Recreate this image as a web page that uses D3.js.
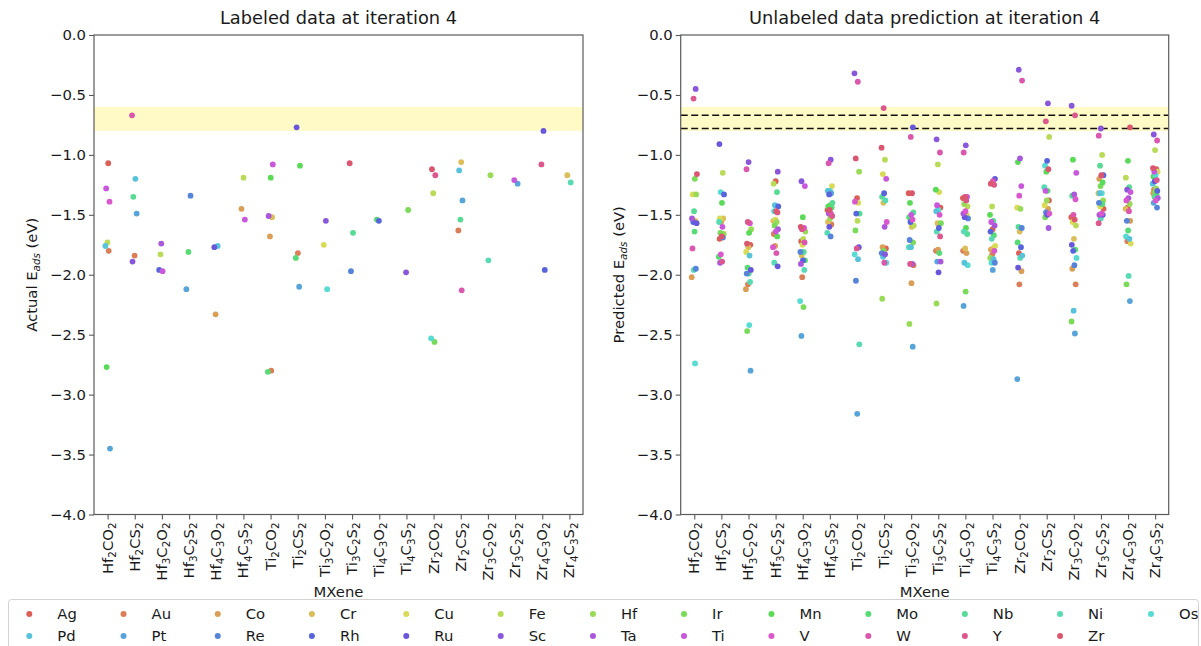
<!DOCTYPE html>
<html>
<head>
<meta charset="utf-8">
<script src="https://cdn.jsdelivr.net/npm/d3@7"></script>
<style>
  html, body { margin: 0; padding: 0; background: #fff; }
  svg { display: block; font-family: "DejaVu Sans", sans-serif; }
</style>
</head>
<body>
<script>
// ---------------- DATA ----------------
const categories = ["Hf2CO2","Hf2CS2","Hf3C2O2","Hf3C2S2","Hf4C3O2","Hf4C3S2",
  "Ti2CO2","Ti2CS2","Ti3C2O2","Ti3C2S2","Ti4C3O2","Ti4C3S2",
  "Zr2CO2","Zr2CS2","Zr3C2O2","Zr3C2S2","Zr4C3O2","Zr4C3S2"];

const elements = ["Ag","Au","Co","Cr","Cu","Fe","Hf","Ir","Mn","Mo","Nb","Ni","Os",
  "Pd","Pt","Re","Rh","Ru","Sc","Ta","Ti","V","W","Y","Zr"];

const yTicks = [0.0,-0.5,-1.0,-1.5,-2.0,-2.5,-3.0,-3.5,-4.0];
const targetBand = [-0.8, -0.6];
const dashedLevels = [-0.67, -0.78];

// labeled (actual) adsorption energies, one list per MXene: [element, E_ads]
const labeledData = [
  [["Ag",-1.07],["Ti",-1.28],["V",-1.39],["Fe",-1.73],["Pd",-1.76],["Au",-1.80],["Mn",-2.77],["Pt",-3.45]],
  [["W",-0.67],["Pd",-1.20],["Nb",-1.35],["Pt",-1.49],["Au",-1.84],["Sc",-1.89]],
  [["Ta",-1.74],["Rh",-1.96],["Ti",-1.97],["Fe",-1.83]],
  [["Re",-1.34],["Mo",-1.81],["Pt",-2.12]],
  [["Ru",-1.77],["Pd",-1.76],["Co",-2.33]],
  [["Fe",-1.19],["Co",-1.45],["Ti",-1.54]],
  [["Ti",-1.08],["Mn",-1.19],["Ta",-1.51],["Cr",-1.52],["Co",-1.68],["Mo",-2.81],["Au",-2.80]],
  [["Ru",-0.77],["Mn",-1.09],["Au",-1.82],["Mo",-1.86],["Pt",-2.10]],
  [["Sc",-1.55],["Cu",-1.75],["Os",-2.12]],
  [["Zr",-1.07],["Nb",-1.65],["Re",-1.97]],
  [["Rh",-1.55],["Mo",-1.54]],
  [["Ir",-1.46],["Sc",-1.98]],
  [["Zr",-1.12],["Y",-1.17],["Fe",-1.32],["Os",-2.53],["Ir",-2.56]],
  [["Cr",-1.06],["Pd",-1.13],["Pt",-1.38],["Nb",-1.54],["Au",-1.63],["W",-2.13]],
  [["Hf",-1.17],["Ni",-1.88]],
  [["Ti",-1.21],["Pt",-1.24]],
  [["Ru",-0.80],["Y",-1.08],["Rh",-1.96]],
  [["Cr",-1.17],["Ni",-1.23]]
];

// predicted energies for the unlabeled element/MXene pairs
const predictedData = [
  [["Sc",-0.45],["Y",-0.53],["Zr",-1.16],["Ir",-1.20],["Cu",-1.33],["Hf",-1.33],["Nb",-1.47],["Ta",-1.53],["Cr",-1.55],["Rh",-1.56],["Ru",-1.57],["Mo",-1.64],["W",-1.78],["Re",-1.95],["Ni",-1.96],["Co",-2.02],["Os",-2.74]],
  [["Ru",-0.91],["Fe",-1.15],["Os",-1.31],["Rh",-1.33],["Mn",-1.40],["Cu",-1.53],["Cr",-1.53],["Co",-1.56],["Ni",-1.56],["Ti",-1.60],["Ir",-1.65],["Hf",-1.66],["Zr",-1.68],["Ag",-1.70],["Re",-1.69],["V",-1.83],["Mo",-1.85],["Y",-1.89],["Ta",-1.90]],
  [["Sc",-1.06],["W",-1.12],["V",-1.57],["Y",-1.56],["Hf",-1.62],["Mn",-1.65],["Zr",-1.74],["Ag",-1.75],["Cr",-1.77],["Cu",-1.81],["Pd",-1.84],["Mo",-1.94],["Ru",-1.96],["Nb",-1.99],["Re",-1.99],["Ni",-2.06],["Au",-2.08],["Co",-2.12],["Os",-2.42],["Ir",-2.47],["Pt",-2.80]],
  [["Sc",-1.14],["Ag",-1.22],["Fe",-1.24],["Nb",-1.31],["Pd",-1.42],["Rh",-1.43],["Zr",-1.47],["Os",-1.47],["Y",-1.48],["Cu",-1.54],["Cr",-1.55],["Hf",-1.56],["Ir",-1.59],["Ta",-1.62],["Ti",-1.64],["Au",-1.66],["Mn",-1.68],["Co",-1.76],["V",-1.77],["W",-1.82],["Ni",-1.90],["Ru",-1.93]],
  [["Sc",-1.22],["Ti",-1.26],["Mn",-1.52],["Zr",-1.60],["V",-1.61],["Y",-1.62],["Hf",-1.64],["Fe",-1.70],["Ag",-1.72],["W",-1.73],["Cu",-1.75],["Re",-1.81],["Nb",-1.81],["Cr",-1.84],["Mo",-1.88],["Rh",-1.88],["Ta",-1.91],["Ni",-1.96],["Au",-2.02],["Os",-2.22],["Ir",-2.27],["Pt",-2.51]],
  [["Sc",-1.04],["W",-1.07],["Cu",-1.26],["Os",-1.30],["Pd",-1.30],["Pt",-1.32],["Rh",-1.33],["Nb",-1.40],["Ir",-1.42],["Mn",-1.43],["Mo",-1.44],["Zr",-1.46],["Ag",-1.46],["V",-1.49],["Ta",-1.49],["Y",-1.51],["Hf",-1.53],["Cr",-1.56],["Au",-1.58],["Ru",-1.60],["Ni",-1.65],["Re",-1.68]],
  [["Sc",-0.32],["W",-0.39],["Zr",-1.03],["Hf",-1.14],["Ag",-1.36],["V",-1.39],["Cu",-1.40],["Rh",-1.49],["Nb",-1.49],["Fe",-1.55],["Ir",-1.63],["Ru",-1.77],["Y",-1.78],["Os",-1.83],["Pd",-1.87],["Re",-2.05],["Ni",-2.58],["Pt",-3.16]],
  [["Y",-0.61],["Zr",-0.94],["Fe",-1.04],["Cu",-1.16],["Ti",-1.20],["Rh",-1.32],["Nb",-1.35],["Ni",-1.38],["Cr",-1.40],["V",-1.56],["Ta",-1.60],["Co",-1.77],["Ag",-1.78],["Ir",-1.80],["Re",-1.82],["Sc",-1.83],["Pd",-1.85],["Os",-1.90],["W",-1.90],["Hf",-2.20]],
  [["Ru",-0.77],["W",-0.85],["Ag",-1.32],["Zr",-1.32],["Mn",-1.40],["Nb",-1.48],["Ti",-1.50],["Mo",-1.52],["V",-1.54],["Rh",-1.56],["Fe",-1.59],["Cr",-1.60],["Re",-1.71],["Ir",-1.73],["Pd",-1.77],["Ni",-1.77],["Ta",-1.91],["Y",-1.91],["Au",-1.92],["Co",-2.07],["Hf",-2.41],["Pt",-2.60]],
  [["Sc",-0.87],["W",-0.98],["Fe",-1.08],["Mn",-1.29],["Cu",-1.31],["Ti",-1.42],["Ag",-1.44],["Os",-1.46],["Pd",-1.47],["V",-1.50],["Cr",-1.57],["Ir",-1.57],["Rh",-1.61],["Ni",-1.64],["Y",-1.68],["Co",-1.79],["Au",-1.80],["Mo",-1.82],["Pt",-1.89],["Ta",-1.89],["Ru",-1.98],["Hf",-2.24]],
  [["Sc",-0.92],["W",-0.98],["Ti",-1.35],["Zr",-1.35],["Ag",-1.36],["Y",-1.38],["Hf",-1.41],["Fe",-1.43],["V",-1.47],["Ta",-1.49],["Cu",-1.50],["Ru",-1.52],["Re",-1.53],["Mn",-1.61],["Ni",-1.64],["Nb",-1.66],["Cr",-1.78],["Au",-1.80],["Co",-1.82],["Pd",-1.90],["Os",-1.92],["Ir",-2.14],["Pt",-2.26]],
  [["Ru",-1.20],["W",-1.22],["Zr",-1.24],["Y",-1.25],["Fe",-1.43],["Mn",-1.50],["Nb",-1.55],["Ti",-1.56],["Ta",-1.59],["Ag",-1.62],["Rh",-1.64],["Mo",-1.67],["Ni",-1.70],["Cu",-1.76],["Cr",-1.78],["Co",-1.79],["V",-1.80],["Au",-1.83],["Hf",-1.86],["Pd",-1.87],["Os",-1.90],["Re",-1.90],["Pt",-1.96]],
  [["Sc",-0.29],["W",-0.38],["Ta",-1.03],["Mn",-1.06],["Ti",-1.26],["V",-1.34],["Cu",-1.44],["Hf",-1.45],["Nb",-1.60],["Re",-1.61],["Cr",-1.64],["Mo",-1.73],["Rh",-1.77],["Ag",-1.82],["Pd",-1.84],["Ni",-1.86],["Ru",-1.94],["Co",-1.97],["Au",-2.08],["Pt",-2.87]],
  [["Sc",-0.57],["Y",-0.72],["Fe",-0.85],["Rh",-1.05],["Os",-1.09],["Zr",-1.12],["Mn",-1.14],["Ni",-1.27],["Mo",-1.30],["Ti",-1.30],["Ag",-1.38],["Hf",-1.38],["Cu",-1.42],["Co",-1.45],["Re",-1.48],["V",-1.49],["Ru",-1.50],["Ir",-1.52],["Ta",-1.61]],
  [["Sc",-0.59],["Y",-0.67],["Mn",-1.04],["Ti",-1.15],["Ta",-1.33],["Nb",-1.34],["V",-1.37],["W",-1.50],["Ag",-1.52],["Zr",-1.54],["Cu",-1.56],["Fe",-1.59],["Cr",-1.70],["Ru",-1.75],["Mo",-1.79],["Rh",-1.80],["Os",-1.86],["Re",-1.92],["Co",-1.95],["Au",-2.08],["Pd",-2.30],["Ir",-2.39],["Pt",-2.49]],
  [["Sc",-0.78],["W",-0.84],["Fe",-1.00],["Nb",-1.09],["Rh",-1.17],["Zr",-1.17],["Co",-1.20],["Mn",-1.23],["Ir",-1.26],["Cr",-1.32],["Os",-1.32],["Pd",-1.32],["Hf",-1.38],["Au",-1.40],["Re",-1.40],["Mo",-1.41],["Cu",-1.43],["Ag",-1.45],["V",-1.49],["Ta",-1.50],["Ru",-1.50],["Ni",-1.53],["Y",-1.57]],
  [["Zr",-0.77],["Mn",-1.05],["Fe",-1.19],["Nb",-1.27],["Sc",-1.29],["Ti",-1.31],["Ta",-1.36],["V",-1.38],["Hf",-1.41],["Ag",-1.44],["Cr",-1.45],["W",-1.47],["Re",-1.55],["Co",-1.55],["Mo",-1.63],["Os",-1.68],["Pd",-1.70],["Au",-1.72],["Cu",-1.74],["Ni",-2.01],["Ir",-2.08],["Pt",-2.22]],
  [["Sc",-0.83],["W",-0.88],["Fe",-0.96],["Zr",-1.11],["Ag",-1.12],["Ti",-1.14],["Cu",-1.14],["Os",-1.17],["Mn",-1.18],["Y",-1.21],["Ru",-1.22],["Pd",-1.24],["Hf",-1.28],["Au",-1.29],["Rh",-1.30],["Ir",-1.31],["Co",-1.32],["Mo",-1.33],["Nb",-1.35],["Ta",-1.36],["V",-1.38],["Pt",-1.40],["Re",-1.44]]
];

// ---------------- RENDER ----------------
const W = 1201, H = 646;
const svg = d3.select("body").append("svg").attr("width", W).attr("height", H);

// seaborn "hls" palette, 25 hues
const color = d3.scaleOrdinal().domain(elements)
  .range(elements.map((e, i) => d3.hsl(((i / elements.length + 0.01) % 1) * 360, 0.65, 0.6).formatHex()));

const textColor = "#1a1a1a";
const spineColor = "#5a5a5a";
const fs = 14.8;

const panels = [
  { x0: 94, x1: 583, data: labeledData, title: "Labeled data at iteration 4", ylab: "Actual E", dashed: false },
  { x0: 680.7, x1: 1168.7, data: predictedData, title: "Unlabeled data prediction at iteration 4", ylab: "Predicted E", dashed: true }
];
const yTop = 35, yBot = 514.5;

function subLabel(sel, name) {
  const parts = name.match(/[A-Za-z]+|\d+/g);
  let shifted = false;
  parts.forEach(p => {
    const isSub = /^\d+$/.test(p);
    const t = sel.append("tspan").text(p);
    if (isSub) { t.attr("font-size", fs * 0.7).attr("dy", shifted ? 0 : 3.2); shifted = true; }
    else { if (shifted) t.attr("dy", -3.2); shifted = false; }
  });
}

panels.forEach((P, pi) => {
  const g = svg.append("g");
  const x = d3.scalePoint().domain(categories).range([P.x0, P.x1]).padding(0.5);
  const step = x.step();
  const y = d3.scaleLinear().domain([-4, 0]).range([yBot, yTop]);

  // target band
  g.append("rect")
    .attr("x", P.x0).attr("width", P.x1 - P.x0)
    .attr("y", y(targetBand[1])).attr("height", y(targetBand[0]) - y(targetBand[1]))
    .attr("fill", "#fffac6");

  if (P.dashed) {
    g.selectAll("line.dash").data(dashedLevels).join("line")
      .attr("x1", P.x0).attr("x2", P.x1)
      .attr("y1", d => y(d)).attr("y2", d => y(d))
      .attr("stroke", "#111").attr("stroke-width", 1.6).attr("stroke-dasharray", "7,3.5");
  }

  // points
  const pts = [];
  P.data.forEach((list, ci) => {
    list.forEach(([el, v], k) => {
      pts.push({ cat: categories[ci], ci, el, v, k });
    });
  });
  pts.sort((a, b) => elements.indexOf(a.el) - elements.indexOf(b.el));
  const jit = (d) => ((((d.k + 1) * 0.6180339887 + d.ci * 0.3819660113 + pi * 0.137) % 1) - 0.5) * 0.2 * step;
  g.selectAll("circle.pt").data(pts).join("circle")
    .attr("cx", d => x(d.cat) + jit(d))
    .attr("cy", d => y(d.v))
    .attr("r", 2.9)
    .attr("fill", d => color(d.el));

  // y axis
  const yAxis = g.append("g").attr("transform", `translate(${P.x0},0)`)
    .call(d3.axisLeft(y).tickValues(yTicks).tickFormat(d3.format(".1f")).tickSize(5).tickPadding(3));
  yAxis.select(".domain").remove();
  yAxis.selectAll(".tick line").attr("stroke", spineColor).attr("stroke-width", 1.1);
  yAxis.selectAll(".tick text").attr("font-size", fs).attr("fill", textColor)
    .attr("font-family", "DejaVu Sans");

  // x axis
  const xAxis = g.append("g").attr("transform", `translate(0,${yBot})`)
    .call(d3.axisBottom(x).tickSize(5).tickFormat(""));
  xAxis.select(".domain").remove();
  xAxis.selectAll(".tick line").attr("stroke", spineColor).attr("stroke-width", 1.1);
  xAxis.selectAll(".tick").each(function (d) {
    const t = d3.select(this).append("text")
      .attr("transform", "translate(0,8) rotate(-90)")
      .attr("text-anchor", "end")
      .attr("dy", "0.3em")
      .attr("font-size", fs).attr("fill", textColor)
      .attr("font-family", "DejaVu Sans");
    subLabel(t, d);
  });

  // frame
  g.append("rect").attr("x", P.x0).attr("y", yTop)
    .attr("width", P.x1 - P.x0).attr("height", yBot - yTop)
    .attr("fill", "none").attr("stroke", spineColor).attr("stroke-width", 1.2);

  // title
  g.append("text").attr("x", (P.x0 + P.x1) / 2).attr("y", 24)
    .attr("text-anchor", "middle").attr("font-size", 17.8).attr("fill", textColor)
    .text(P.title);

  // x label
  g.append("text").attr("x", (P.x0 + P.x1) / 2).attr("y", 597)
    .attr("text-anchor", "middle").attr("font-size", fs).attr("fill", textColor)
    .text("MXene");

  // y label
  const yl = g.append("text")
    .attr("transform", `translate(${P.x0 - 57},${(yTop + yBot) / 2}) rotate(-90)`)
    .attr("text-anchor", "middle").attr("font-size", fs).attr("fill", textColor);
  yl.append("tspan").text(P.ylab);
  yl.append("tspan").text("ads").attr("font-style", "italic").attr("font-size", fs * 0.7).attr("dy", 3.2);
  yl.append("tspan").text(" (eV)").attr("dy", -3.2);
});

// ---------------- LEGEND ----------------
const ncol = 13;
const lg = svg.append("g");
lg.append("rect").attr("x", 8.5).attr("y", 599.5).attr("width", 1190).attr("height", 70)
  .attr("rx", 3).attr("fill", "#fff").attr("stroke", "#d3d3d3").attr("stroke-width", 1);

const meas = svg.append("text").attr("font-size", fs).attr("visibility", "hidden");
const widths = elements.map(e => { meas.text(e); return meas.node().getComputedTextLength(); });
meas.remove();
const colW = d3.range(ncol).map(c => d3.max(elements.filter((e, i) => i % ncol === c).map(e => widths[elements.indexOf(e)])));
const firstX = 29.3, lastX = 1151, textOff = 28;
const spacing = (lastX - firstX - (ncol - 1) * textOff - d3.sum(colW.slice(0, ncol - 1))) / (ncol - 1);
const colX = [firstX];
for (let c = 1; c < ncol; c++) colX.push(colX[c - 1] + textOff + colW[c - 1] + spacing);
const rowY = [614, 636];

const items = lg.selectAll("g.item").data(elements).join("g")
  .attr("transform", (d, i) => `translate(${colX[i % ncol]},${rowY[Math.floor(i / ncol)]})`);
items.append("circle").attr("r", 3).attr("fill", d => color(d));
items.append("text").attr("x", textOff).attr("dy", "0.36em")
  .attr("font-size", fs).attr("fill", textColor).text(d => d);
</script>
</body>
</html>
